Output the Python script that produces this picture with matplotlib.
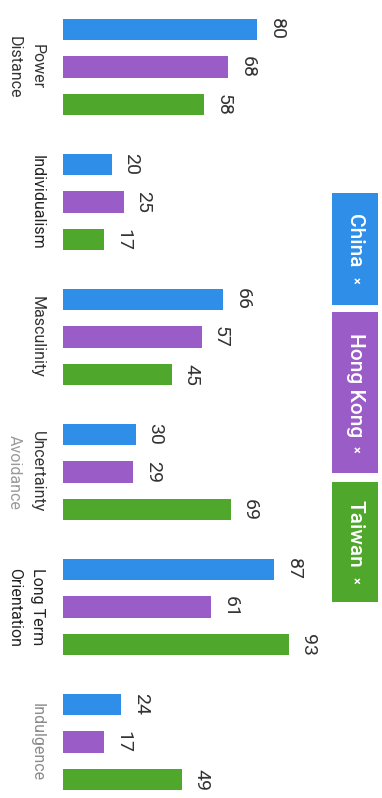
import matplotlib.pyplot as plt
from matplotlib.patches import Rectangle

plt.rcParams['font.family'] = ['Roboto', 'DejaVu Sans']

dimensions = ['Power Distance', 'Individualism', 'Masculinity',
              'Uncertainty Avoidance', 'Long Term Orientation', 'Indulgence']
label_lines = [['Power', 'Distance'], ['Individualism'], ['Masculinity'],
               ['Uncertainty', 'Avoidance'], ['Long Term', 'Orientation'], ['Indulgence']]
label_colors = [['#333333', '#333333'], ['#222222'], ['#333333'],
                ['#333333', '#9a9a9a'], ['#222222', '#222222'], ['#8a8a8a']]

countries = ['China', 'Hong Kong', 'Taiwan']
china = [80, 20, 66, 30, 87, 24]
hong_kong = [68, 25, 57, 29, 61, 17]
taiwan = [58, 17, 45, 69, 93, 49]
colors = ['#2f8fe8', '#9a5cc6', '#4fa72b']

series = [china, hong_kong, taiwan]

fig = plt.figure(figsize=(3.82, 7.98), dpi=100)
ax = fig.add_axes([0, 0, 1, 1])
ax.axis('off')

offset = 0.28
bar_h = 0.158
for j, (vals, c) in enumerate(zip(series, colors)):
    ys = [i + (j - 1) * offset for i in range(len(vals))]
    ax.barh(ys, vals, height=bar_h, color=c)
    for y, v in zip(ys, vals):
        ax.text(v + 4.3, y, str(v), rotation=-90, ha='left', va='center',
                fontsize=14, color='#333333')

# rotated category labels, first line on the right
for i, (lines, cols) in enumerate(zip(label_lines, label_colors)):
    xs = [-10.5, -20.0] if len(lines) == 2 else [-10.5]
    for x, txt, c in zip(xs, lines, cols):
        ax.text(x, i, txt, rotation=-90, ha='center', va='center',
                fontsize=11.5, color=c)

ax.set_xlim(-63 / 2.43, (382 - 63) / 2.43)
ax.set_ylim((798 - 67) / 135, -67 / 135)

# legend chips down the right side, name plus a small close mark
renderer = fig.canvas.get_renderer()
W, H = fig.bbox.width, fig.bbox.height
chips = [(193, 305), (312, 473), (482, 602)]
for (top, bottom), name, c in zip(chips, countries, colors):
    x0, w = 332 / 382, 46 / 382
    y0, h = 1 - bottom / 798, (bottom - top) / 798
    fig.add_artist(Rectangle((x0, y0), w, h, transform=fig.transFigure,
                             facecolor=c, edgecolor='none'))
    t1 = fig.text(x0 + w / 2, 0, name, rotation=-90, ha='center', va='top',
                  fontsize=15, fontweight='medium', color='white')
    t2 = fig.text(x0 + w / 2, 0, '\u00d7', rotation=-90, ha='center', va='bottom',
                  fontsize=9, fontweight='bold', color='white')
    h1 = t1.get_window_extent(renderer).height / H
    h2 = t2.get_window_extent(renderer).height / H
    gap = 9 / H
    total = h1 + gap + h2
    start = y0 + h / 2 + total / 2
    t1.set_y(start)
    t2.set_y(start - total)

fig.savefig('out.png', dpi=100)
